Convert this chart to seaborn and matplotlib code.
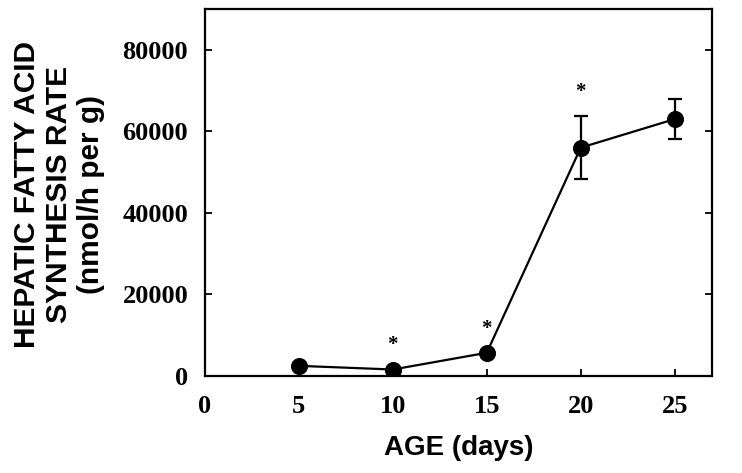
import pandas as pd
import matplotlib
matplotlib.use("Agg")
import matplotlib.pyplot as plt
import seaborn as sns

age = [5, 10, 15, 20, 25]
rate = [2500, 1600, 5700, 56000, 63000]
sem = [0, 0, 0, 7800, 4900]
signif = [False, True, True, True, False]

df = pd.DataFrame({"age": age, "rate": rate, "sem": sem})

sns.set_style("ticks", {"axes.edgecolor": "black", "text.color": "black",
                        "xtick.color": "black", "ytick.color": "black",
                        "axes.labelcolor": "black"})
plt.rcParams["font.family"] = ["Liberation Sans", "DejaVu Sans"]

fig = plt.figure(figsize=(7.42, 4.73), dpi=100)
ax = fig.add_axes([0.276, 0.205, 0.684, 0.776])

sns.lineplot(data=df, x="age", y="rate", color="black", lw=1.6,
             marker="o", markersize=11.5, markeredgecolor="black", ax=ax)
ax.errorbar(df["age"], df["rate"], yerr=df["sem"], fmt="none",
            ecolor="black", elinewidth=1.6, capsize=5, capthick=1.6)

# asterisks for significant points
for a, r, s, ok in zip(age, rate, sem, signif):
    if ok:
        ax.text(a, r + s + 3500, "*", ha="center", va="bottom",
                fontsize=15, fontweight="bold", family="Liberation Serif")

ax.set_xlim(0, 27)
ax.set_ylim(0, 90000)
ax.set_xticks([0, 5, 10, 15, 20, 25])
ax.set_yticks([0, 20000, 40000, 60000, 80000])
ax.tick_params(axis="both", direction="in", length=5, width=1.3,
               labelsize=19)
ax.tick_params(axis="x", pad=14)
ax.tick_params(axis="y", right=True, pad=12)
for lab in ax.get_xticklabels() + ax.get_yticklabels():
    lab.set_fontfamily("Liberation Serif")
    lab.set_fontweight("bold")
for sp in ax.spines.values():
    sp.set_linewidth(1.6)

ax.set_xlabel("AGE (days)", fontsize=20, fontweight="bold", labelpad=12)
ax.set_ylabel("")
fig.text(0.08, 0.588, "HEPATIC FATTY ACID\nSYNTHESIS RATE\n(nmol/h per g)",
         rotation=90, ha="center", va="center", multialignment="center",
         fontsize=21.5, fontweight="bold", linespacing=1.18)

fig.savefig("out.png", dpi=100)
